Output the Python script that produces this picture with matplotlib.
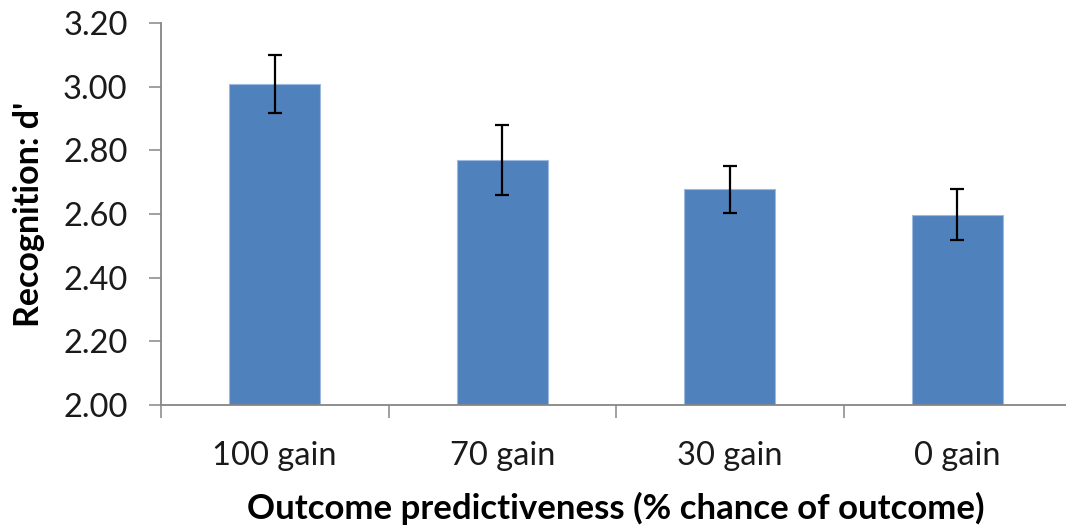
import matplotlib
matplotlib.use("Agg")
import matplotlib.pyplot as plt
import numpy as np

categories = ["100 gain", "70 gain", "30 gain", "0 gain"]
dprime = [3.008, 2.771, 2.677, 2.597]
sem = [0.090, 0.110, 0.073, 0.080]
yticks = [2.00, 2.20, 2.40, 2.60, 2.80, 3.00, 3.20]

plt.rcParams['font.family'] = ['Lato', 'DejaVu Sans']

W, H = 1066, 528
fig = plt.figure(figsize=(W / 100, H / 100), dpi=100)
ax = fig.add_axes([161 / W, 1 - 405 / H, 910 / W, 382 / H])

x = np.arange(len(categories))
ax.bar(x, [v - 2.0 for v in dprime], bottom=2.0, width=0.40,
       color="#4F81BD", edgecolor="#9DB9DD", linewidth=0.8, zorder=2)
ax.errorbar(x, dprime, yerr=sem, fmt="none", ecolor="black",
            elinewidth=1.6, capsize=5, capthick=1.6, zorder=3)

ax.set_xlim(-0.5, len(categories) - 0.5)
ax.set_ylim(2.0, 3.2)
ax.set_yticks(yticks)
ax.set_yticklabels([f"{t:.2f}" for t in yticks])

# category boundaries carry the tick marks; labels sit at bar centres
ax.set_xticks(np.arange(len(categories) + 1) - 0.5)
ax.set_xticklabels([])
ax.set_xticks(x, minor=True)
ax.set_xticklabels(categories, minor=True)

gray = "#868686"
for side in ("top", "right"):
    ax.spines[side].set_visible(False)
for side in ("left", "bottom"):
    ax.spines[side].set_color(gray)
    ax.spines[side].set_linewidth(1.3)

ax.tick_params(axis="y", which="major", direction="out", length=9, width=1.1,
               color=gray, pad=15, labelsize=23.5, labelcolor="#1a1a1a")
ax.tick_params(axis="x", which="major", direction="out", length=9, width=1.1,
               color=gray)
ax.tick_params(axis="x", which="minor", length=0, pad=26, labelsize=23.5,
               labelcolor="#1a1a1a")

ax.set_xlabel("Outcome predictiveness (% chance of outcome)", fontsize=25,
              fontweight="bold", labelpad=15)
ax.set_ylabel("Recognition: d'", fontsize=24.5, fontweight="bold", labelpad=13)

fig.savefig("out.png", dpi=100)
